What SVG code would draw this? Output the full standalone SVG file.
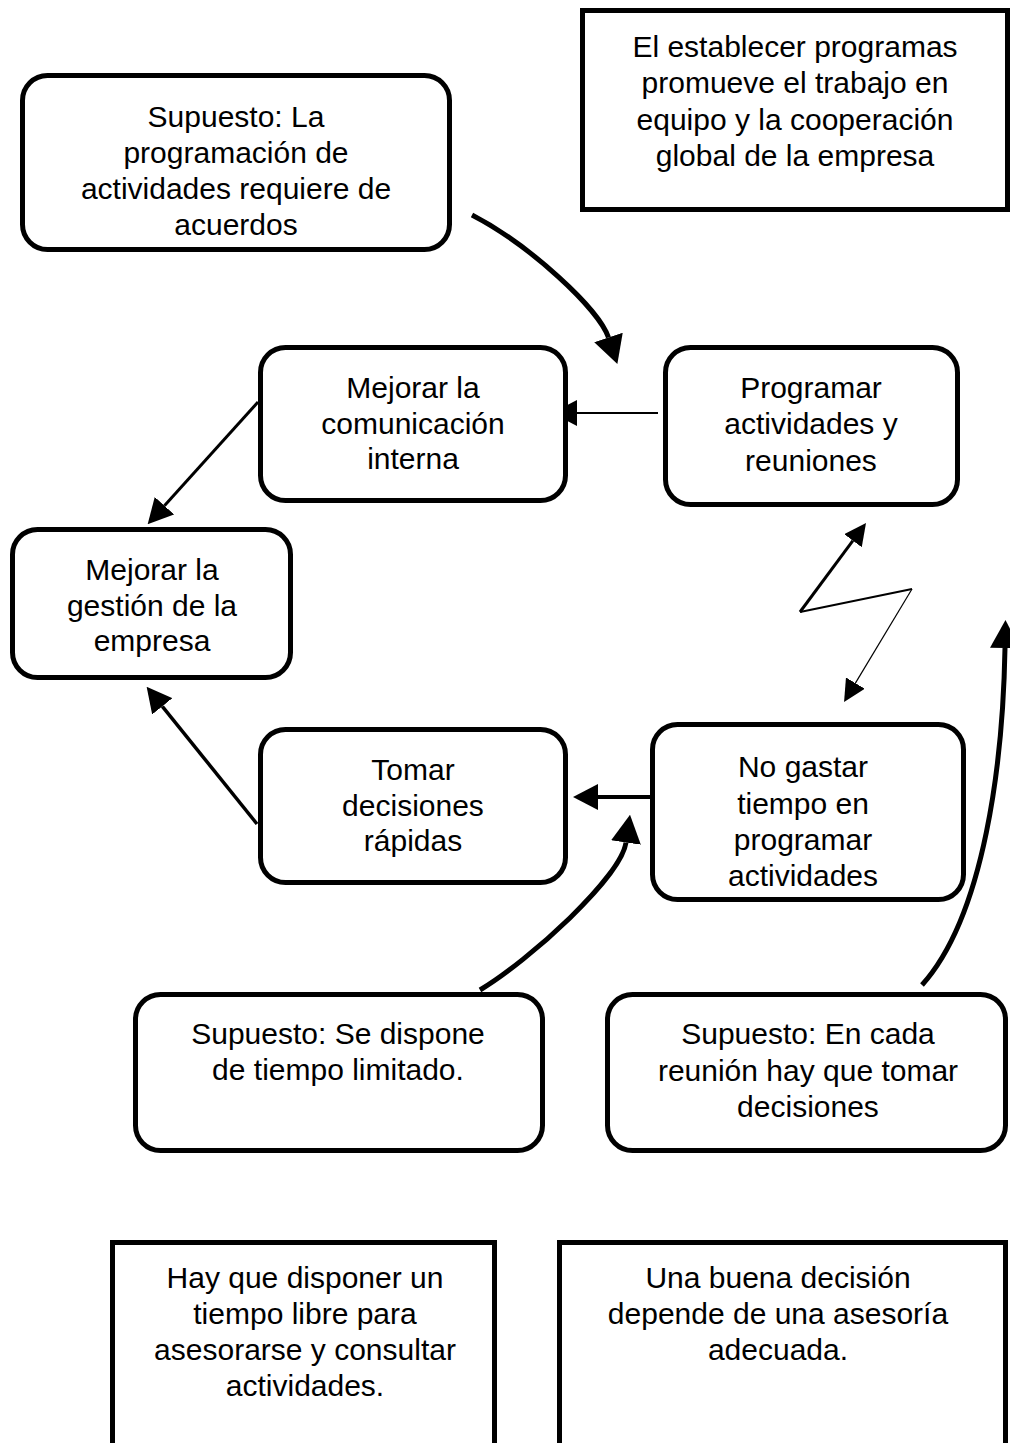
<svg xmlns="http://www.w3.org/2000/svg" width="1010" height="1443" viewBox="0 0 1010 1443">
  <style>
    .box { fill: #ffffff; stroke: #000000; stroke-width: 5; }
    .lbl { font-family: "Liberation Sans", Arial, sans-serif; font-size: 30px; fill: #000000; text-anchor: middle; }
    .wire { fill: none; stroke: #000000; stroke-linejoin: round; }
  </style>
  <defs>
    <marker id="head-l" viewBox="0 0 28 30" refX="0" refY="15" markerWidth="28" markerHeight="30" markerUnits="userSpaceOnUse" orient="auto">
      <path d="M0,0 L28,15 L0,30 z" fill="#000000"/>
    </marker>
    <marker id="head-m" viewBox="0 0 25 26" refX="0" refY="13" markerWidth="25" markerHeight="26" markerUnits="userSpaceOnUse" orient="auto">
      <path d="M0,0 L25,13 L0,26 z" fill="#000000"/>
    </marker>
    <marker id="head-s" viewBox="0 0 22 22" refX="0" refY="11" markerWidth="22" markerHeight="22" markerUnits="userSpaceOnUse" orient="auto">
      <path d="M0,0 L22,11 L0,22 z" fill="#000000"/>
    </marker>
  </defs>

  <!-- connectors -->
  <g id="connectors">
    <path class="wire" stroke-width="5" d="M472,215 C530,245 599,309 608.5,337.5" marker-end="url(#head-l)"/>
    <path class="wire" stroke-width="2" d="M658,413 L577,413" marker-end="url(#head-m)"/>
    <path class="wire" stroke-width="3" d="M258,402 L164.4,505.7" marker-end="url(#head-m)"/>
    <path class="wire" stroke-width="3.5" d="M257,824 L162.3,706.3" marker-end="url(#head-m)"/>
    <path class="wire" stroke-width="4" d="M680,797 L598,797" marker-end="url(#head-m)"/>
    <path class="wire" stroke-width="5" d="M480,990 C530,960 621,877 626,842.5" marker-end="url(#head-l)"/>
    <path class="wire" stroke-width="3" d="M800,612 L852.9,540.7" marker-end="url(#head-s)"/>
    <path class="wire" stroke-width="2" d="M800,612 L912,589"/>
    <path class="wire" stroke-width="1.2" d="M912,589 L855.4,683.1" marker-end="url(#head-s)"/>
    <path class="wire" stroke-width="5" d="M922,985 C985,915 1003,760 1005,648" marker-end="url(#head-l)"/>
  </g>

  <g id="n-supuesto-acuerdos">
    <rect class="box" x="22.5" y="75.5" width="427" height="174" rx="25"/>
    <text class="lbl" x="236" y="127">Supuesto: La</text>
    <text class="lbl" x="236" y="163">programación de</text>
    <text class="lbl" x="236" y="199">actividades requiere de</text>
    <text class="lbl" x="236" y="235">acuerdos</text>
  </g>

  <g id="n-programas">
    <rect class="box" x="582.5" y="10.5" width="425" height="199"/>
    <text class="lbl" x="795" y="57">El establecer programas</text>
    <text class="lbl" x="795" y="93">promueve el trabajo en</text>
    <text class="lbl" x="795" y="130">equipo y la cooperación</text>
    <text class="lbl" x="795" y="166">global de la empresa</text>
  </g>

  <g id="n-comunicacion">
    <rect class="box" x="260.5" y="347.5" width="305" height="153" rx="25"/>
    <text class="lbl" x="413" y="398">Mejorar la</text>
    <text class="lbl" x="413" y="434">comunicación</text>
    <text class="lbl" x="413" y="469">interna</text>
  </g>

  <g id="n-programar">
    <rect class="box" x="665.5" y="347.5" width="292" height="157" rx="25"/>
    <text class="lbl" x="811" y="398">Programar</text>
    <text class="lbl" x="811" y="434">actividades y</text>
    <text class="lbl" x="811" y="471">reuniones</text>
  </g>

  <g id="n-gestion">
    <rect class="box" x="12.5" y="529.5" width="278" height="148" rx="25"/>
    <text class="lbl" x="152" y="580">Mejorar la</text>
    <text class="lbl" x="152" y="616">gestión de la</text>
    <text class="lbl" x="152" y="651">empresa</text>
  </g>

  <g id="n-decisiones">
    <rect class="box" x="260.5" y="729.5" width="305" height="153" rx="25"/>
    <text class="lbl" x="413" y="780">Tomar</text>
    <text class="lbl" x="413" y="816">decisiones</text>
    <text class="lbl" x="413" y="851">rápidas</text>
  </g>

  <g id="n-no-gastar">
    <rect class="box" x="652.5" y="724.5" width="311" height="175" rx="25"/>
    <text class="lbl" x="803" y="777">No gastar</text>
    <text class="lbl" x="803" y="814">tiempo en</text>
    <text class="lbl" x="803" y="850">programar</text>
    <text class="lbl" x="803" y="886">actividades</text>
  </g>

  <g id="n-supuesto-tiempo">
    <rect class="box" x="135.5" y="994.5" width="407" height="156" rx="25"/>
    <text class="lbl" x="338" y="1044">Supuesto: Se dispone</text>
    <text class="lbl" x="338" y="1080">de tiempo limitado.</text>
  </g>

  <g id="n-supuesto-reunion">
    <rect class="box" x="607.5" y="994.5" width="398" height="156" rx="25"/>
    <text class="lbl" x="808" y="1044">Supuesto: En cada</text>
    <text class="lbl" x="808" y="1081">reunión hay que tomar</text>
    <text class="lbl" x="808" y="1117">decisiones</text>
  </g>

  <g id="n-tiempo-libre">
    <rect class="box" x="112.5" y="1242.5" width="382" height="230"/>
    <text class="lbl" x="305" y="1288">Hay que disponer un</text>
    <text class="lbl" x="305" y="1324">tiempo libre para</text>
    <text class="lbl" x="305" y="1360">asesorarse y consultar</text>
    <text class="lbl" x="305" y="1396">actividades.</text>
  </g>

  <g id="n-asesoria">
    <rect class="box" x="559.5" y="1242.5" width="446" height="230"/>
    <text class="lbl" x="778" y="1288">Una buena decisión</text>
    <text class="lbl" x="778" y="1324">depende de una asesoría</text>
    <text class="lbl" x="778" y="1360">adecuada.</text>
  </g>
</svg>
